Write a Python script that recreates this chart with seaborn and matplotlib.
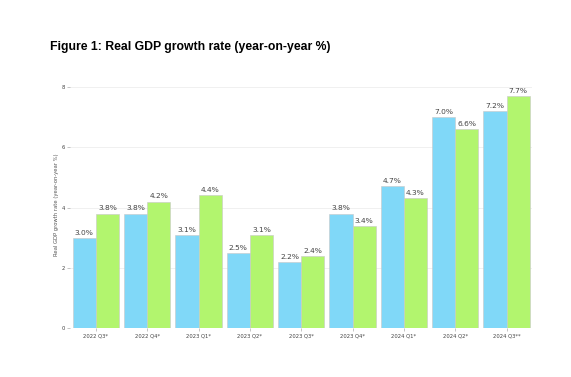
import matplotlib
matplotlib.use("Agg")
import matplotlib.pyplot as plt
import seaborn as sns
import pandas as pd

quarters = ["2022 Q3*", "2022 Q4*", "2023 Q1*", "2023 Q2*", "2023 Q3*",
            "2023 Q4*", "2024 Q1*", "2024 Q2*", "2024 Q3**"]
series_a = [3.0, 3.8, 3.1, 2.5, 2.2, 3.8, 4.7, 7.0, 7.2]
series_b = [3.8, 4.2, 4.4, 3.1, 2.4, 3.4, 4.3, 6.6, 7.7]
series_names = ["Series A", "Series B"]
yticks = [0, 2, 4, 6, 8]

df = pd.DataFrame({
    "quarter": quarters * 2,
    "value": series_a + series_b,
    "series": [series_names[0]] * len(quarters) + [series_names[1]] * len(quarters),
})

sns.set_theme(style="white")
plt.rcParams['font.family'] = ['DejaVu Sans']

fig = plt.figure(figsize=(5.71, 3.77), dpi=100)
ax = fig.add_axes([0.123, 0.13, 0.809, 0.655])

palette = {series_names[0]: "#80d8f8", series_names[1]: "#b2f56e"}
sns.barplot(data=df, x="quarter", y="value", hue="series", palette=palette,
            width=0.9, ax=ax, legend=False, saturation=1,
            edgecolor="#c8c8c8", linewidth=0.4)

for cont in ax.containers:
    ax.bar_label(cont, labels=[f"{v:.1f}%" for v in cont.datavalues],
                 fontsize=5.4, color="#444444", padding=1.5)

ax.set_ylim(0, 8.2)
ax.set_yticks(yticks)
ax.set_yticklabels([str(t) for t in yticks])
ax.set_xlim(-0.5, len(quarters) - 0.5)
ax.grid(axis="y", color="#eeeeee", linewidth=0.6)
ax.set_axisbelow(True)
for s in ax.spines.values():
    s.set_visible(False)
ax.tick_params(axis="both", labelsize=3.8, length=2, width=0.4,
               direction="out", left=True, bottom=True, pad=2)
ax.tick_params(axis="x", colors="#999999", labelcolor="#444444")
ax.tick_params(axis="y", colors="#999999", labelcolor="#444444")
ax.set_xlabel("")
ax.set_ylabel("Real GDP growth rate (year-on-year %)", fontsize=3.8, color="#555555", labelpad=2)

fig.text(0.088, 0.868, "Figure 1: Real GDP growth rate (year-on-year %)",
         fontsize=8.8, fontweight="bold", family=["Liberation Sans"], color="black")

fig.savefig("out.png", dpi=100)
